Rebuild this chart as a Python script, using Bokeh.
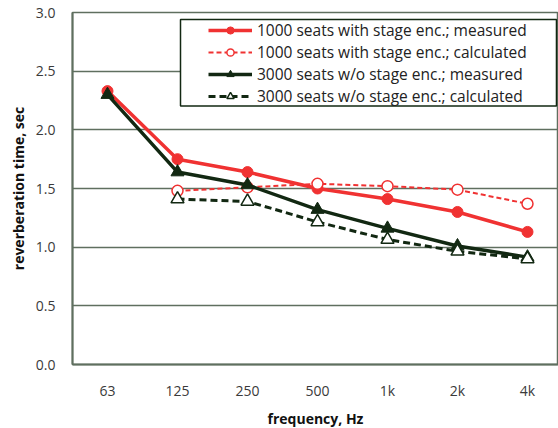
from bokeh.plotting import figure
from bokeh.models import Range1d, FixedTicker, Legend, LegendItem, BoxAnnotation
from bokeh.embed import file_html
from bokeh.resources import INLINE

freqs = ["63", "125", "250", "500", "1k", "2k", "4k"]
x_all = [0, 1, 2, 3, 4, 5, 6]
x_calc = [1, 2, 3, 4, 5, 6]
with_meas = [2.33, 1.75, 1.64, 1.50, 1.41, 1.30, 1.13]
with_calc = [1.48, 1.51, 1.54, 1.52, 1.49, 1.37]
wo_meas = [2.30, 1.64, 1.53, 1.32, 1.16, 1.01, 0.915]
wo_calc = [1.41, 1.39, 1.215, 1.065, 0.965, 0.90]

RED = "#f03232"
DARK = "#122812"
GRID = "#5f6f5f"
FONT = "Open Sans"

p = figure(frame_width=486, frame_height=352, output_backend="svg",
           toolbar_location=None, x_range=Range1d(-0.5, 6.443),
           y_range=Range1d(0, 3.0), min_border_left=72, min_border_top=12,
           min_border_bottom=64, min_border_right=0)
p.outline_line_color = GRID
p.outline_line_width = 1.5
p.xgrid.grid_line_color = None
p.ygrid.grid_line_color = GRID
p.ygrid.grid_line_width = 1.5
p.ygrid.grid_line_alpha = 1.0

p.xaxis.ticker = FixedTicker(ticks=x_all)
p.xaxis.major_label_overrides = {x: f for x, f in zip(x_all, freqs)}
p.yaxis.ticker = FixedTicker(ticks=[0, 0.5, 1.0, 1.5, 2.0, 2.5, 3.0])
p.yaxis.major_label_overrides = {0: "0.0", 0.5: "0.5", 1.0: "1.0", 1.5: "1.5",
                                 2.0: "2.0", 2.5: "2.5", 3.0: "3.0"}
for ax in (p.xaxis, p.yaxis):
    ax.major_tick_line_color = None
    ax.minor_tick_line_color = None
    ax.major_tick_out = 0
    ax.minor_tick_out = 0
    ax.axis_line_color = GRID
    ax.axis_line_width = 2
    ax.major_label_text_font = FONT
    ax.major_label_text_font_size = "14px"
    ax.major_label_text_color = "#3a3a3a"
    ax.axis_label_text_font = FONT
    ax.axis_label_text_font_size = "14px"
    ax.axis_label_text_font_style = "bold"
    ax.axis_label_text_color = "#111111"
p.xaxis.major_label_standoff = 16
p.yaxis.major_label_standoff = 17
p.xaxis.axis_label = "frequency, Hz"
p.yaxis.axis_label = "reverberation time, sec"
p.xaxis.axis_label_standoff = 6
p.yaxis.axis_label_standoff = 5

# legend frame (white box, covers gridline)
p.add_layout(BoxAnnotation(left=1.043, right=6.414, bottom=2.204, top=2.940,
                           fill_color="white", fill_alpha=1.0,
                           line_color=DARK, line_alpha=1.0, line_width=1.5))

l1 = p.line(x_all, with_meas, line_color=RED, line_width=3.5)
s1 = p.scatter(x_all, with_meas, marker="circle", size=11, fill_color=RED, line_color=RED)
l2 = p.line(x_calc, with_calc, line_color=RED, line_width=2, line_dash="5 3")
s2 = p.scatter(x_calc, with_calc, marker="circle", size=11, fill_color="white", line_color=RED, line_width=1.5)
l3 = p.line(x_all, wo_meas, line_color=DARK, line_width=3.5)
s3 = p.scatter(x_all, wo_meas, marker="triangle", size=13, fill_color=DARK, line_color=DARK)
l4 = p.line(x_calc, wo_calc, line_color=DARK, line_width=3, line_dash="7 4")
s4 = p.scatter(x_calc, wo_calc, marker="triangle", size=13, fill_color="white", line_color=DARK, line_width=1.5)

legend = Legend(items=[
    LegendItem(label="1000 seats with stage enc.; measured", renderers=[l1, s1]),
    LegendItem(label="1000 seats with stage enc.; calculated", renderers=[l2, s2]),
    LegendItem(label="3000 seats w/o stage enc.; measured", renderers=[l3, s3]),
    LegendItem(label="3000 seats w/o stage enc.; calculated", renderers=[l4, s4]),
], location=(136, 257))
legend.border_line_color = None
legend.background_fill_alpha = 0.0
legend.label_text_font = FONT
legend.label_text_font_size = "15.5px"
legend.label_text_color = "#222222"
legend.glyph_width = 44
legend.glyph_height = 18
legend.label_height = 18
legend.spacing = 0
legend.padding = 0
legend.margin = 0
legend.label_standoff = 5
p.add_layout(legend, "center")

open("out.html", "w").write(file_html(p, INLINE))
